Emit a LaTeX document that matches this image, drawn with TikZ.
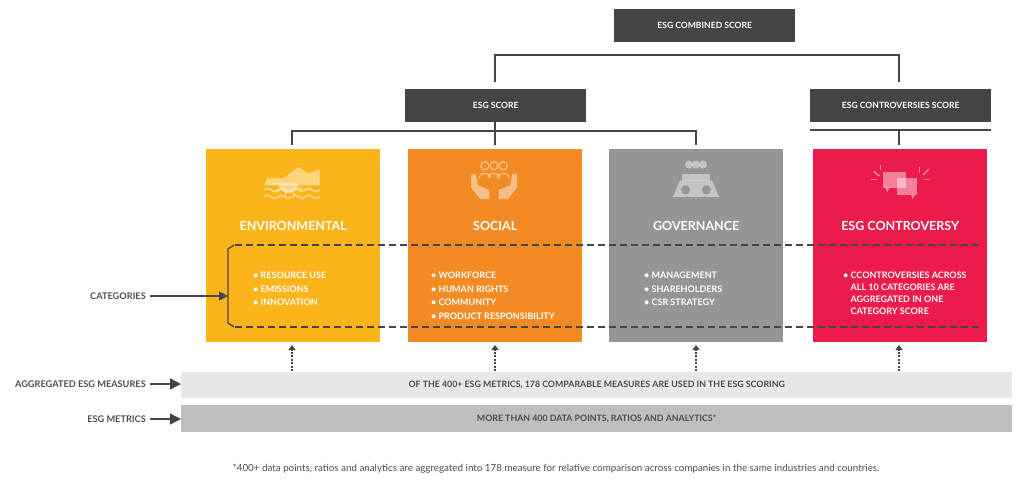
\documentclass[tikz,border=0pt]{standalone}
\usepackage{fontspec}
\setmainfont{Lato}
\usetikzlibrary{arrows.meta}
\definecolor{dk}{HTML}{454547}
\definecolor{env}{HTML}{FBB41A}
\definecolor{soc}{HTML}{F28B24}
\definecolor{gov}{HTML}{939598}
\definecolor{con}{HTML}{EC1B4B}
\definecolor{barA}{HTML}{E6E7E8}
\definecolor{barB}{HTML}{BDBEC0}
\definecolor{txt}{HTML}{4D4D4F}
\begin{document}
\begin{tikzpicture}[x=1pt,y=-1pt,
  hbox/.style={fill=dk,text=white,font=\bfseries\fontsize{8.6}{10}\selectfont,minimum width=181pt,minimum height=33pt,anchor=north west,inner sep=0pt},
  cat/.style={minimum width=174pt,minimum height=193pt,anchor=north west,inner sep=0pt},
  ttl/.style={text=white,font=\bfseries\fontsize{12.5}{14}\selectfont},
  bul/.style={text=white,font=\bfseries\fontsize{9}{13.6}\selectfont,align=left,anchor=north west,inner sep=0pt},
  conn/.style={draw=dk,line width=1.6pt},
  dashln/.style={draw=dk,line width=1.6pt,dash pattern=on 7pt off 4pt},
  lbl/.style={text=txt,font=\bfseries\fontsize{9.2}{10}\selectfont,anchor=east,inner sep=0pt},
  bar/.style={minimum width=831pt,anchor=north west,inner sep=0pt,text=txt,font=\bfseries\fontsize{8.8}{10}\selectfont},
  dotarr/.style={draw=dk,line width=2pt,dash pattern=on 2pt off 1.5pt,-{Triangle[length=5pt,width=7pt]}},
  ic/.style={fill=white,fill opacity=0.45,draw=none}]
\useasboundingbox (0,0) rectangle (1024,493);
% headers
\node[hbox] (comb) at (614,9) {ESG COMBINED SCORE};
\node[hbox] (esg) at (405,89) {ESG SCORE};
\node[hbox] (cs) at (810,89) {ESG CONTROVERSIES SCORE};
% categories
\node[cat,fill=env] (e) at (206,149) {};
\node[cat,fill=soc] (s) at (408,149) {};
\node[cat,fill=gov] (g) at (609,149) {};
\node[cat,fill=con] (c) at (813,149) {};
% tree connectors
\draw[conn] (495,82) |- (899,55) -- (899,82);
\draw[conn] (292,145) |- (696,131) -- (696,145);
\draw[conn] (495,122) -- (495,145);
\draw[conn] (810,130) -- (991,130);
\draw[conn] (899,130) -- (899,145);
% titles
\node[ttl] at (e.north |- 0,226) {ENVIRONMENTAL};
\node[ttl] at (s.north |- 0,226) {SOCIAL};
\node[ttl] at (g.north |- 0,226) {GOVERNANCE};
\node[ttl] at (c.north |- 0,226) {ESG CONTROVERSY};
% bullets
\node[bul] at (253,272) {• RESOURCE USE\\• EMISSIONS\\• INNOVATION};
\node[bul] at (431,272) {• WORKFORCE\\• HUMAN RIGHTS\\• COMMUNITY\\• PRODUCT RESPONSIBILITY};
\node[bul] at (644,272) {• MANAGEMENT\\• SHAREHOLDERS\\• CSR STRATEGY};
\node[bul,font=\bfseries\fontsize{9}{11.8}\selectfont] at (843,272) {• CCONTROVERSIES ACROSS\\\hphantom{• }ALL 10 CATEGORIES ARE\\\hphantom{• }AGGREGATED IN ONE\\\hphantom{• }CATEGORY SCORE};
% dashed band
\draw[dashln] (235,245) -- (981,245);
\draw[dashln] (235,327) -- (981,327);
\draw[conn,line width=1.4pt] (234,245) -- (228,249) -- (228,323) -- (234,327);
\coordinate (brk) at (228,296);
\node[lbl] (catl) at (146,296) {CATEGORIES};
\draw[conn,line width=1.4pt,-{Triangle[length=9pt,width=9pt]}] (catl.east) ++(4,0) -- (brk);
% bars
\node[bar,fill=barA,minimum height=26pt] (b1) at (181,372) {OF THE 400+ ESG METRICS, 178 COMPARABLE MEASURES ARE USED IN THE ESG SCORING};
\node[bar,fill=barB,minimum height=27pt] (b2) at (181,405) {MORE THAN 400 DATA POINTS, RATIOS AND ANALYTICS*};
\node[lbl] (l1) at (146,384) {AGGREGATED ESG MEASURES};
\node[lbl] (l2) at (146,419) {ESG METRICS};
\draw[conn,line width=1.4pt,-{Triangle[length=11pt,width=11pt]}] (l1.east) ++(4,0) -- (b1.west |- l1);
\draw[conn,line width=1.4pt,-{Triangle[length=11pt,width=11pt]}] (l2.east) ++(4,0) -- (b2.west |- l2);
% dotted arrows
\foreach \x in {292,495,696,899} \draw[dotarr] (\x,371) -- (\x,345);
% footnote
\node[text=txt,font=\fontsize{9.8}{11}\selectfont] (fn) at (556,469) {*400+ data points, ratios and analytics are aggregated into 178 measure for relative comparison across companies in the same industries and countries.};
% icons
\begin{scope}[shift={(292,183)},scale=1.15]
 \fill[ic] (-12,0) arc (180:0:9) -- cycle;
 \fill[ic] (-24,2) -- (-22,-4) -- (-8,-4) -- (6,-14) -- (14,-8) -- (24,-12) -- (24,2) -- cycle;
 \foreach \a in {100,130,160,70,40} \draw[white,opacity=0.45,line width=1.5pt] (-3,-4) ++(\a:12) -- ++(\a:4);
 \foreach \yy in {6,12} \draw[white,opacity=0.45,line width=1.8pt] (-24,\yy) \foreach \k in {0,1,2,3} {.. controls ++(3,-3) and ++(-3,0) .. ++(6,0) .. controls ++(3,3) and ++(-3,0) .. ++(6,0)};
\end{scope}
\begin{scope}[shift={(494,183)},scale=1.15]
 \foreach \xx in {-8,0,8} {\draw[white,opacity=0.45,line width=1.3pt] (\xx,-15) circle (3.5);
   \draw[white,opacity=0.45,line width=1.3pt] (\xx-5,-4) .. controls (\xx-5,-10) and (\xx+5,-10) .. (\xx+5,-4);}
 \fill[ic] (-20,-8) -- (-16,-8) -- (-14,2) -- (-4,6) -- (-4,14) -- (-12,14) -- (-20,4) -- cycle;
 \fill[ic] (20,-8) -- (16,-8) -- (14,2) -- (4,6) -- (4,14) -- (12,14) -- (20,4) -- cycle;
\end{scope}
\begin{scope}[shift={(696,183)},scale=1.15]
 \foreach \xx in {-6,0,6} \fill[ic] (\xx,-16) circle (3.5);
 \fill[ic] (-12,-8) rectangle (12,-2);
 \fill[ic] (-14,-2) -- (14,-2) -- (20,12) -- (-20,12) -- cycle;
 \fill[gov] (-9,6) circle (4); \fill[gov] (9,6) circle (4);
\end{scope}
\begin{scope}[shift={(899,183)},scale=1.15]
 \fill[ic] (-14,-10) rectangle (6,4); \fill[ic] (-12,4) -- (-8,4) -- (-10,8) -- cycle;
 \fill[ic] (-2,-4) rectangle (16,10); \fill[ic] (10,10) -- (14,10) -- (12,14) -- cycle;
 \foreach \p/\q in {{(-22,-10)}/{(-17,-6)},{(-24,-3)}/{(-19,-3)},{(-16,-16)}/{(-16,-11)},{(18,-14)}/{(18,-9)},{(26,-12)}/{(21,-7)},{(27,-3)}/{(22,-3)}}
   \draw[white,opacity=0.45,line width=1.5pt] \p -- \q;
\end{scope}
\end{tikzpicture}
\end{document}
